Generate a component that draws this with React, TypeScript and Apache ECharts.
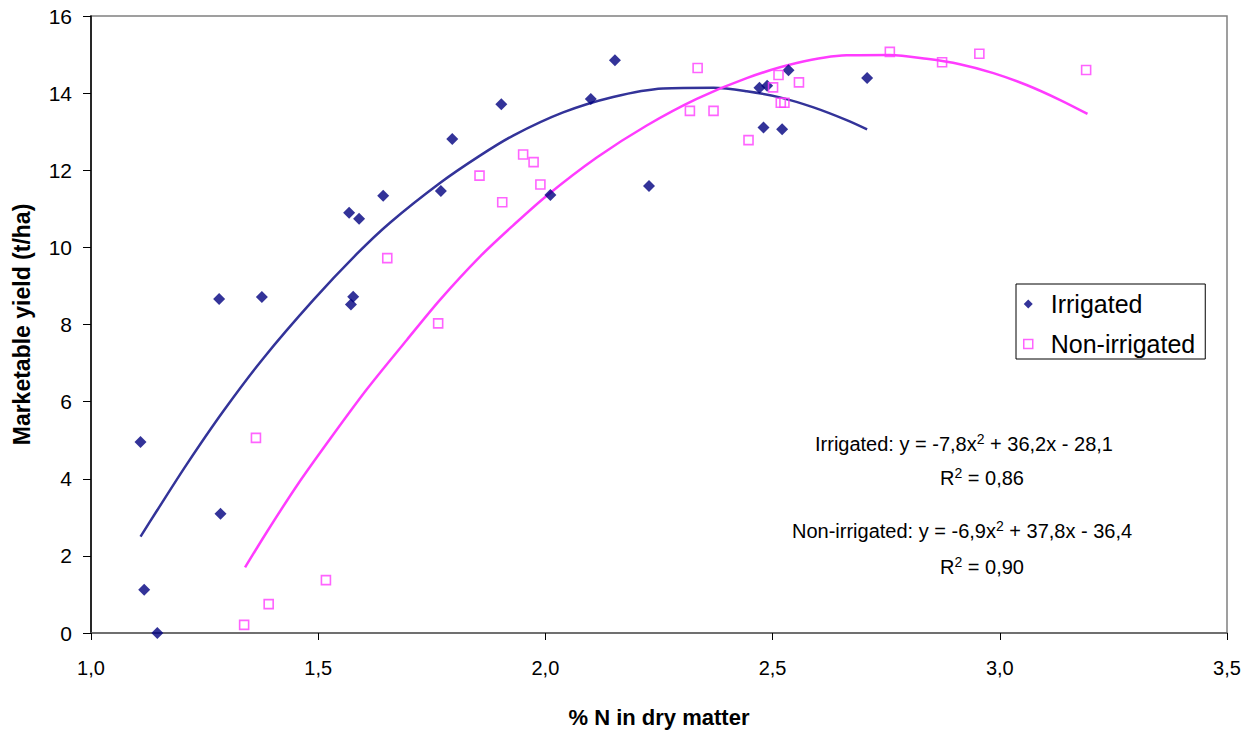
import React, { useEffect, useRef } from "react";
import * as echarts from "echarts";

// ---- data ----
const irrigatedN = [1.109, 1.117, 1.146, 1.282, 1.285, 1.376, 1.568, 1.59, 1.577, 1.572, 1.643, 1.77, 1.795, 1.903, 2.011, 2.1, 2.153, 2.228, 2.471, 2.488, 2.48, 2.521, 2.535, 2.708];
const irrigatedYield = [4.95, 1.12, 0.0, 8.66, 3.09, 8.71, 10.9, 10.74, 8.72, 8.52, 11.34, 11.46, 12.81, 13.71, 11.36, 13.85, 14.85, 11.59, 14.14, 14.19, 13.11, 13.06, 14.59, 14.39];

const nonIrrigatedN = [1.337, 1.391, 1.363, 1.517, 1.652, 1.764, 1.855, 1.905, 1.951, 1.974, 1.989, 2.335, 2.318, 2.37, 2.447, 2.513, 2.501, 2.558, 2.518, 2.526, 2.758, 2.873, 2.955, 3.19];
const nonIrrigatedYield = [0.21, 0.75, 5.06, 1.37, 9.72, 8.03, 11.86, 11.17, 12.41, 12.21, 11.63, 14.65, 13.54, 13.54, 12.78, 14.47, 14.15, 14.28, 13.75, 13.75, 15.07, 14.8, 15.02, 14.6];

// trend lines
const irrigatedTrendN = [1.109, 1.145, 1.211, 1.291, 1.379, 1.489, 1.585, 1.658, 1.768, 1.856, 1.929, 2.039, 2.149, 2.259, 2.37, 2.443, 2.516, 2.59, 2.663, 2.708];
const irrigatedTrendYield = [2.5, 3.17, 4.38, 5.75, 7.12, 8.63, 9.83, 10.64, 11.67, 12.38, 12.9, 13.5, 13.9, 14.12, 14.14, 14.05, 13.89, 13.63, 13.3, 13.06];

const nonIrrigatedTrendN = [1.339, 1.387, 1.453, 1.526, 1.607, 1.695, 1.768, 1.856, 1.929, 2.003, 2.113, 2.223, 2.333, 2.443, 2.553, 2.663, 2.758, 2.839, 2.912, 2.986, 3.059, 3.133, 3.193];
const nonIrrigatedTrendYield = [1.7, 2.62, 3.82, 5.03, 6.32, 7.6, 8.64, 9.76, 10.57, 11.34, 12.33, 13.16, 13.85, 14.39, 14.78, 14.98, 14.99, 14.89, 14.75, 14.52, 14.21, 13.82, 13.46];

const seriesNames = ["Irrigated", "Non-irrigated"];
const xTitle = "% N in dry matter";
const yTitle = "Marketable yield (t/ha)";
const equationLines = [
  ["Irrigated: y = -7,8x", "2", " + 36,2x - 28,1"],
  ["R", "2", " = 0,86"],
  ["Non-irrigated: y = -6,9x", "2", " + 37,8x - 36,4"],
  ["R", "2", " = 0,90"],
];

const FONT = "'Liberation Sans', Arial, sans-serif";
const NAVY = "#000080";
const BLUE_LINE = "#333399";
const PINK = "#ff3cff";

const zip = (a: number[], b: number[]) => a.map((v, i) => [v, b[i]]);

export default function App() {
  const ref = useRef<HTMLDivElement>(null);
  useEffect(() => {
    document.body.style.margin = "0";
    const chart = echarts.init(ref.current!, null, { renderer: "svg" });

    const eqPos: [number, number, string][] = [
      [815, 444, "left"],
      [982, 478, "center"],
      [792, 531, "left"],
      [982, 567, "center"],
    ];
    const richStyle = {
      b: { fontSize: 20, fontFamily: FONT, fill: "#000", lineHeight: 24 },
      s: { fontSize: 14, fontFamily: FONT, fill: "#000", lineHeight: 14, verticalAlign: "top" },
    };
    const graphics = equationLines.map((parts, i) => ({
      type: "text",
      x: eqPos[i][0],
      y: eqPos[i][1],
      silent: true,
      style: {
        text: `{b|${parts[0]}}{s|${parts[1]}}{b|${parts[2]}}`,
        rich: richStyle,
        textAlign: eqPos[i][2],
        textVerticalAlign: "middle",
        fill: "#000",
      },
    }));

    const option = {
      animation: false,
      backgroundColor: "#fff",
      textStyle: { fontFamily: FONT },
      grid: {
        left: 91,
        top: 16,
        right: 29,
        bottom: 100,
        show: true,
        borderColor: "#808080",
        borderWidth: 1.5,
        backgroundColor: "#fff",
      },
      legend: {
        orient: "vertical",
        left: 1016,
        top: 284,
        backgroundColor: "#fff",
        borderColor: "#000",
        borderWidth: 1,
        padding: [7, 10, 2, 7],
        itemGap: 14,
        itemWidth: 9,
        itemHeight: 9,
        textStyle: { fontSize: 25, fontFamily: FONT, color: "#000", lineHeight: 26, padding: [0, 0, 0, 13] },
        data: [
          { name: seriesNames[0], icon: "diamond", itemStyle: { color: NAVY } },
          {
            name: seriesNames[1],
            icon: "rect",
            itemStyle: { color: "rgba(0,0,0,0)", borderColor: PINK, borderWidth: 1.5 },
          },
        ],
      },
      xAxis: {
        type: "value",
        min: 1,
        max: 3.5,
        interval: 0.5,
        name: xTitle,
        nameLocation: "middle",
        nameGap: 73,
        nameTextStyle: { fontSize: 22, fontWeight: "bold", fontFamily: FONT, color: "#000" },
        axisLine: { show: true, lineStyle: { color: "#606060", width: 1.5 } },
        axisTick: { show: true, length: 7, lineStyle: { color: "#000", width: 1 } },
        axisLabel: {
          fontSize: 20,
          color: "#000",
          fontFamily: FONT,
          margin: 25,
          formatter: (v: number) => v.toFixed(1).replace(".", ","),
        },
        splitLine: { show: false },
      },
      yAxis: {
        type: "value",
        min: 0,
        max: 16,
        interval: 2,
        name: yTitle,
        nameLocation: "middle",
        nameGap: 58,
        nameTextStyle: { fontSize: 23, fontWeight: "bold", fontFamily: FONT, color: "#000" },
        axisLine: { show: true, lineStyle: { color: "#000", width: 1.5 } },
        axisTick: { show: true, length: 8, lineStyle: { color: "#000", width: 1 } },
        axisLabel: { fontSize: 21, color: "#000", fontFamily: FONT, margin: 19 },
        splitLine: { show: false },
      },
      graphic: graphics,
      series: [
        {
          name: "Irrigated trend",
          type: "line",
          data: zip(irrigatedTrendN, irrigatedTrendYield),
          smooth: 0.3,
          showSymbol: false,
          silent: true,
          lineStyle: { color: BLUE_LINE, width: 2.5 },
          z: 2,
        },
        {
          name: "Non-irrigated trend",
          type: "line",
          data: zip(nonIrrigatedTrendN, nonIrrigatedTrendYield),
          smooth: 0.3,
          showSymbol: false,
          silent: true,
          lineStyle: { color: PINK, width: 2.5 },
          z: 2,
        },
        {
          name: seriesNames[0],
          type: "scatter",
          symbol: "diamond",
          symbolSize: 12,
          data: zip(irrigatedN, irrigatedYield),
          itemStyle: { color: NAVY },
          z: 3,
        },
        {
          name: seriesNames[1],
          type: "scatter",
          symbol: "rect",
          symbolSize: 9,
          data: zip(nonIrrigatedN, nonIrrigatedYield),
          itemStyle: { color: "rgba(0,0,0,0)", borderColor: PINK, borderWidth: 1.6 },
          z: 3,
        },
      ],
    };

    chart.setOption(option as any);
    return () => chart.dispose();
  }, []);
  return <div ref={ref} style={{ width: 1256, height: 733 }} />;
}
